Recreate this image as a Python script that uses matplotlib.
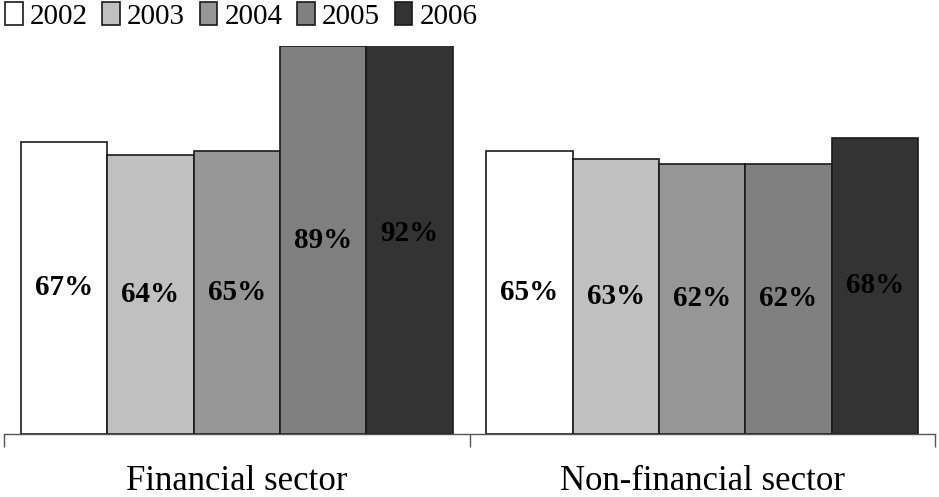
import numpy as np
import matplotlib
matplotlib.use("Agg")
import matplotlib.pyplot as plt

plt.rcParams['font.family'] = ['Liberation Serif', 'DejaVu Serif']

sectors = ["Financial sector", "Non-financial sector"]
years = ["2002", "2003", "2004", "2005", "2006"]
values = {
    "2002": [67, 65],
    "2003": [64, 63],
    "2004": [65, 62],
    "2005": [89, 62],
    "2006": [92, 68],
}
colors = ["#ffffff", "#c0c0c0", "#969696", "#808080", "#333333"]

fig = plt.figure(figsize=(9.39, 4.97), dpi=100)
ax = fig.add_axes([4 / 939, 1 - 434 / 497, 931 / 939, 388 / 497])

x = np.arange(len(sectors))
w = 0.1855
for i, yr in enumerate(years):
    vals = values[yr]
    xs = x + (i - 2) * w
    ax.bar(xs, vals, width=w, color=colors[i], edgecolor="#1a1a1a",
           linewidth=1.2, label=yr, zorder=2)
    for xx, v in zip(xs, vals):
        ax.text(xx, v / 2, f"{v}%", ha="center", va="center",
                fontsize=21, fontweight="bold", zorder=3)

ax.set_xlim(-0.5, 1.5)
ax.set_ylim(0, 89)
for s in ["left", "right", "top"]:
    ax.spines[s].set_visible(False)
ax.spines["bottom"].set_color("#555555")
ax.spines["bottom"].set_linewidth(1.0)
ax.set_yticks([])
ax.set_xticks(x)
ax.set_xticklabels(sectors, fontsize=25)
ax.tick_params(axis="x", which="major", length=0, pad=22)
ax.set_xticks([-0.5, 0.5, 1.5], minor=True)
ax.tick_params(axis="x", which="minor", length=9, width=1.0, color="#555555",
               direction="out")

fig.legend(loc="center left", bbox_to_anchor=(5 / 939, 1 - 16 / 497), ncol=5,
           frameon=False, fontsize=21, handlelength=0.6, handleheight=0.85,
           handletextpad=0.25, columnspacing=0.5, borderaxespad=0,
           borderpad=0.0)

fig.savefig("out.png", dpi=100)
